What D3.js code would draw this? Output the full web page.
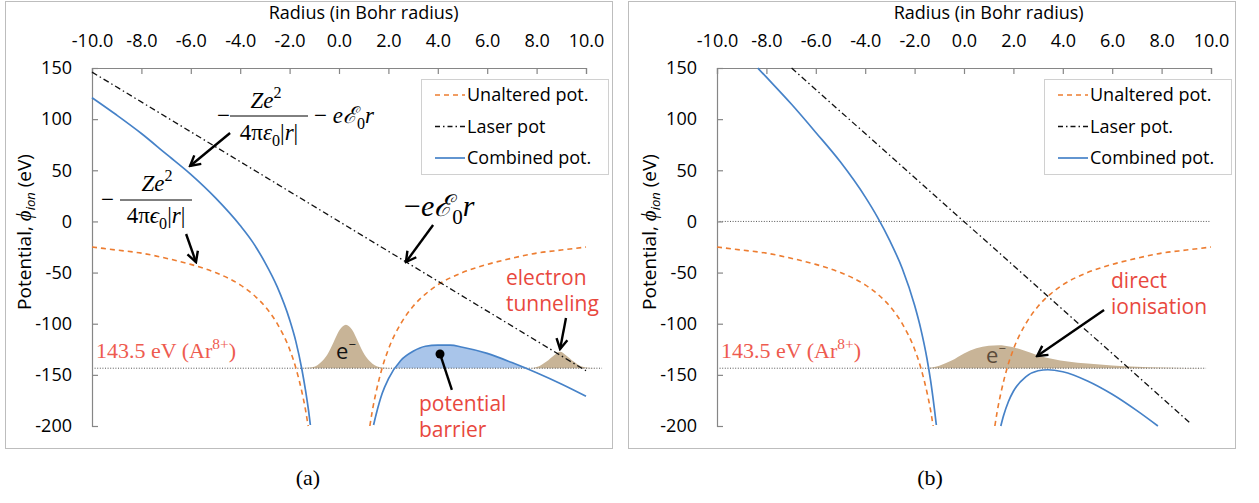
<!DOCTYPE html>
<html>
<head>
<meta charset="utf-8">
<script src="https://cdn.jsdelivr.net/npm/d3@7"></script>
<style>
  body { margin: 0; background: #fff; }
  svg { display: block; font-family: "Open Sans", sans-serif; }
  .axis text { font-size: 18px; fill: #000; font-family: "Open Sans", sans-serif; }
  .axis path, .axis line { stroke: #868686; stroke-width: 1.2; }
</style>
</head>
<body>
<svg id="chart" width="1259" height="503"></svg>
<script>
// ticks
const xTicks = [-10, -8, -6, -4, -2, 0, 2, 4, 6, 8, 10];
const yTicks = [150, 100, 50, 0, -50, -100, -150, -200];
const ionLevel = -143.5;

// unaltered potential, same in both panels
const rUnaltNeg = [-10, -9, -8, -7, -6, -5, -4, -3.5, -3, -2.5, -2, -1.75, -1.5, -1.35, -1.25];
const vUnaltNeg = [-25, -28, -31, -36, -42, -50, -62, -71, -83, -100, -125, -143, -167, -185, -200];
const rUnaltPos = [1.25, 1.35, 1.5, 1.75, 2, 2.5, 3, 3.5, 4, 5, 6, 7, 8, 9, 10];
const vUnaltPos = [-200, -185, -167, -143, -125, -100, -83, -71, -62, -50, -42, -36, -31, -28, -25];

// panel (a)
const rLaserA = [-10, 10];
const vLaserA = [146, -146];
const rCombNegA = [-10, -9, -8, -7, -6, -5, -4, -3.5, -3, -2.5, -2, -1.75, -1.5, -1.35, -1.2, -1.16];
const vCombNegA = [121, 104, 86, 66, 46, 23, -4, -20, -40, -64, -96, -117, -145, -166, -191, -199];
const rCombPosA = [1.4, 1.5, 1.75, 2, 2.5, 3, 3.5, 4, 4.5, 5, 6, 7, 8, 9, 10];
const vCombPosA = [-199, -189, -168, -154, -136, -127, -122, -121, -121, -123, -129, -138, -148, -159, -171];
const rBarrier = [2.26, 2.5, 3, 3.5, 4, 4.5, 5, 6, 7, 7.57];
const vBarrier = [-143.5, -136, -127, -122, -121, -121, -123, -129, -138, -143.5];
const rPacketA = [-1.6, -1.0, -0.72, -0.47, -0.22, 0.03, 0.28, 0.53, 0.78, 1.03, 1.28, 1.58, 2.15];
const vPacketA = [-143.5, -142, -137.5, -130, -118, -106, -101, -106, -118, -130, -137.5, -142, -143.5];
const rTunnel = [7.7, 8.1, 8.4, 8.7, 8.95, 9.2, 9.5, 9.8, 10.2, 10.65];
const vTunnel = [-143.5, -141.5, -137, -131, -127.5, -131, -137, -141.5, -143.2, -143.5];
const rIonLineA = [-10, 10.65];

// panel (b)
const rLaserB = [-6.98, 9.2];
const vLaserB = [150, -198];
const rCombNegB = [-8.35, -8, -7, -6, -5, -4, -3.5, -3, -2.5, -2, -1.75, -1.5, -1.35, -1.2, -1.12];
const vCombNegB = [150, 141, 115, 87, 58, 24, 4, -19, -46, -82, -105, -134, -156, -183, -199];
const rCombPosB = [1.49, 1.6, 1.8, 2, 2.5, 3, 3.4, 4, 5, 6, 7, 7.85];
const vCombPosB = [-200, -190, -176, -166, -152, -146, -145, -147, -156, -169, -185, -200];
const rPacketB = [-1.6, -1, -0.5, 0, 0.5, 1, 1.4, 1.9, 2.4, 3, 3.6, 4.2, 5, 6, 7, 8, 9, 9.8];
const vPacketB = [-143.5, -141, -136, -129, -124, -121.5, -121, -122.5, -126, -131, -134.5, -137, -139, -140.8, -142, -142.8, -143.3, -143.5];
const rIonLineB = [-10, 9.8];
const rZeroLineB = [-10, 9.96];

const legendA = ["Unaltered pot.", "Laser pot", "Combined pot."];
const legendB = ["Unaltered pot.", "Laser pot.", "Combined pot."];

const ORANGE = "#ed7d31", BLUE = "#4682c8", TAN = "#c8b497", BARRIER = "#a9c5ea", RED = "#e8483e";

const zip = (rs, vs) => rs.map((r, i) => [r, vs[i]]);

const svg = d3.select("#chart");
const defs = svg.append("defs");
defs.append("marker")
  .attr("id", "arr")
  .attr("markerUnits", "userSpaceOnUse")
  .attr("viewBox", "0 0 14 14")
  .attr("markerWidth", 14).attr("markerHeight", 14)
  .attr("refX", 12).attr("refY", 7)
  .attr("orient", "auto")
  .append("path")
  .attr("d", "M2,1.5L12,7L2,12.5")
  .attr("fill", "none").attr("stroke", "#000").attr("stroke-width", 2.4);

// outer frames
[5.5, 628.5].forEach(fx => {
  svg.append("rect").attr("x", fx).attr("y", 1.5).attr("width", 607).attr("height", 447)
    .attr("fill", "none").attr("stroke", "#bdbdbd");
});

// text with italic / sub / sup runs
function runs(text, parts, size) {
  let shift = 0;
  parts.forEach(([s, kind]) => {
    const target = kind.includes("sup") ? -0.42 * size : kind.includes("sub") ? 0.25 * size : 0;
    const ts = text.append("tspan").text(s).attr("dy", target - shift);
    shift = target;
    if (kind.startsWith("i")) ts.attr("font-style", "italic");
    if (target !== 0) ts.attr("font-size", size * 0.7);
  });
  return text;
}
function serif(x, y, size, anchor) {
  return svg.append("text").attr("x", x).attr("y", y)
    .attr("font-family", "'Liberation Serif', serif").attr("font-size", size)
    .attr("text-anchor", anchor || "start");
}
function arrow(p, a, b) {
  svg.append("line")
    .attr("x1", p.x(a[0])).attr("y1", p.y(a[1]))
    .attr("x2", p.x(b[0])).attr("y2", p.y(b[1]))
    .attr("stroke", "#000").attr("stroke-width", 2.4)
    .attr("marker-end", "url(#arr)");
}
function redText(x, y, lines, anchor) {
  const t = svg.append("text").attr("x", x).attr("y", y).attr("fill", RED)
    .attr("font-size", 21).attr("text-anchor", anchor || "start");
  lines.forEach((l, i) => t.append("tspan").attr("x", x).attr("dy", i ? 26 : 0).text(l));
}

function drawPanel(cfg) {
  const x = d3.scaleLinear().domain([-10, 10]).range([cfg.x0, cfg.x0 + 494]);
  const y = d3.scaleLinear().domain([-200, 150]).range([426, 68]);
  const line = d3.line().x(d => x(d[0])).y(d => y(d[1])).curve(d3.curveMonotoneX);
  const area = d3.area().x(d => x(d[0])).y0(y(ionLevel)).y1(d => y(d[1])).curve(d3.curveMonotoneX);
  const g = svg.append("g");

  // fills
  cfg.fills.forEach(f => {
    g.append("path").attr("d", area(f.pts)).attr("fill", f.color);
  });

  // dotted reference lines
  cfg.refs.forEach(rf => {
    g.append("line")
      .attr("x1", x(rf.r[0])).attr("x2", x(rf.r[1]))
      .attr("y1", y(rf.v)).attr("y2", y(rf.v))
      .attr("stroke", "#555").attr("stroke-width", 1).attr("stroke-dasharray", "1,1.6");
  });

  // axes
  g.append("g").attr("class", "axis")
    .attr("transform", `translate(0,${y(150)})`)
    .call(d3.axisTop(x).tickValues(xTicks).tickFormat(d => d.toFixed(1))
      .tickSizeInner(-6).tickSizeOuter(-6).tickPadding(21));
  g.append("g").attr("class", "axis")
    .attr("transform", `translate(${x(-10)},0)`)
    .call(d3.axisLeft(y).tickValues(yTicks).tickFormat(d => String(d))
      .tickSizeInner(-6).tickSizeOuter(-6).tickPadding(20));

  g.append("text").attr("x", x(1)).attr("y", 19).attr("text-anchor", "middle")
    .attr("font-size", 18).text("Radius (in Bohr radius)");

  const yl = g.append("text").attr("transform", `translate(${cfg.x0 - 61},232) rotate(-90)`)
    .attr("text-anchor", "middle").attr("font-size", 19);
  yl.append("tspan").text("Potential, ");
  yl.append("tspan").text("ϕ").attr("font-style", "italic").attr("font-family", "'Liberation Serif', serif").attr("font-size", 21);
  yl.append("tspan").text("ion").attr("font-style", "italic").attr("font-size", 13).attr("dy", 4);
  yl.append("tspan").text(" (eV)").attr("dy", -4);

  // curves
  const series = [
    { pts: zip(rUnaltNeg, vUnaltNeg), color: ORANGE, dash: "5,4", w: 1.6 },
    { pts: zip(rUnaltPos, vUnaltPos), color: ORANGE, dash: "5,4", w: 1.6 },
    { pts: cfg.laser, color: "#111", dash: "6,3,1.5,3", w: 1.3 },
    { pts: cfg.combNeg, color: BLUE, dash: null, w: 1.7 },
    { pts: cfg.combPos, color: BLUE, dash: null, w: 1.7 }
  ];
  series.forEach(s => {
    g.append("path").attr("d", line(s.pts)).attr("fill", "none")
      .attr("stroke", s.color).attr("stroke-width", s.w)
      .attr("stroke-dasharray", s.dash);
  });

  // legend
  const lx = cfg.legendX;
  g.append("rect").attr("x", lx + 0.5).attr("y", 79.5).attr("width", 187).attr("height", 95)
    .attr("fill", "#fff").attr("stroke", "#d0d0d0");
  const legStyles = [
    { color: ORANGE, dash: "5,4", w: 1.6 },
    { color: "#111", dash: "5,3,1.5,3", w: 1.3 },
    { color: BLUE, dash: null, w: 1.7 }
  ];
  cfg.legend.forEach((lab, i) => {
    const by = 101 + i * 31.5;
    g.append("line").attr("x1", lx + 14).attr("x2", lx + 44)
      .attr("y1", by - 6).attr("y2", by - 6)
      .attr("stroke", legStyles[i].color).attr("stroke-width", legStyles[i].w)
      .attr("stroke-dasharray", legStyles[i].dash);
    g.append("text").attr("x", lx + 46).attr("y", by).attr("font-size", 18).text(lab);
  });

  // ionisation energy label
  runs(serif(cfg.x0 + 4, 358, 22).attr("fill", "#ee5b4f"),
    [["143.5 eV (Ar", "n"], ["8+", "sup"], [")", "n"]], 22);

  g.append("text").attr("x", cfg.tagX).attr("y", 485).attr("text-anchor", "middle")
    .attr("font-family", "'Liberation Serif', serif").attr("font-size", 22).text(cfg.tag);

  return { x, y };
}

// ----- panel (a)
const pA = drawPanel({
  x0: 92,
  laser: zip(rLaserA, vLaserA),
  combNeg: zip(rCombNegA, vCombNegA),
  combPos: zip(rCombPosA, vCombPosA),
  fills: [
    { pts: zip(rBarrier, vBarrier), color: BARRIER },
    { pts: zip(rPacketA, vPacketA), color: TAN },
    { pts: zip(rTunnel, vTunnel), color: TAN }
  ],
  refs: [{ r: rIonLineA, v: ionLevel }],
  legendX: 421,
  legend: legendA,
  tag: "(a)",
  tagX: 308
});

// ----- panel (b)
const pB = drawPanel({
  x0: 717,
  laser: zip(rLaserB, vLaserB),
  combNeg: zip(rCombNegB, vCombNegB),
  combPos: zip(rCombPosB, vCombPosB),
  fills: [{ pts: zip(rPacketB, vPacketB), color: TAN }],
  refs: [{ r: rIonLineB, v: ionLevel }, { r: rZeroLineB, v: 0 }],
  legendX: 1044,
  legend: legendB,
  tag: "(b)",
  tagX: 930
});

// ----- annotations panel (a)
// -Ze^2/(4 pi eps0 |r|) - e E0 r
serif(217, 123, 23).text("−");
runs(serif(266, 108, 23, "middle"), [["Z", "i"], ["e", "i"], ["2", "sup"]], 23);
svg.append("line").attr("x1", 230).attr("x2", 308).attr("y1", 116).attr("y2", 116).attr("stroke", "#000").attr("stroke-width", 1);
runs(serif(269, 140, 23, "middle"), [["4π", "n"], ["ε", "i"], ["0", "sub"], ["|", "n"], ["r", "i"], ["|", "n"]], 23);
runs(serif(314, 123, 23), [["− ", "n"], ["e", "i"], ["ℰ", "i"], ["0", "sub"], ["r", "i"]], 23);
arrow(pA, [-4.41, 86.5], [-6.03, 54.2]);

// -Ze^2/(4 pi eps0 |r|)
serif(101, 207, 23).text("−");
runs(serif(157, 191, 23, "middle"), [["Z", "i"], ["e", "i"], ["2", "sup"]], 23);
svg.append("line").attr("x1", 120).attr("x2", 192).attr("y1", 200).attr("y2", 200).attr("stroke", "#000").attr("stroke-width", 1);
runs(serif(156, 223, 23, "middle"), [["4π", "n"], ["ϵ", "i"], ["0", "sub"], ["|", "n"], ["r", "i"], ["|", "n"]], 23);
arrow(pA, [-6.19, -12.3], [-5.79, -39.7]);

// -e E0 r
runs(serif(404, 216, 30), [["−", "n"], ["e", "i"], ["ℰ", "i"], ["0", "sub"], ["r", "i"]], 30);
arrow(pA, [3.81, -3.5], [2.71, -39.7]);

// electron tunneling
redText(506, 285, ["electron", "tunneling"]);
arrow(pA, [9.19, -94.4], [8.95, -124.7]);

// potential barrier
svg.append("line").attr("x1", pA.x(4.09)).attr("y1", pA.y(-129.6))
  .attr("x2", pA.x(4.57)).attr("y2", pA.y(-164.8)).attr("stroke", "#000").attr("stroke-width", 2.4);
svg.append("circle").attr("cx", pA.x(4.09)).attr("cy", pA.y(-129.6)).attr("r", 4.5).attr("fill", "#000");
redText(419, 411, ["potential", "barrier"]);

// e- in packet (a)
const eA = svg.append("text").attr("x", 346).attr("y", 359).attr("text-anchor", "middle").attr("font-size", 22).attr("fill", "#111");
eA.append("tspan").text("e");
eA.append("tspan").text("−").attr("font-size", 13).attr("dy", -10);

// ----- annotations panel (b)
const eB = svg.append("text").attr("x", 996).attr("y", 363).attr("text-anchor", "middle").attr("font-size", 22).attr("fill", "#5b4b3b");
eB.append("tspan").text("e");
eB.append("tspan").text("−").attr("font-size", 13).attr("dy", -10);
redText(1111, 288, ["direct", "ionisation"]);
arrow(pB, [5.67, -86.6], [2.96, -131.6]);
</script>
</body>
</html>
